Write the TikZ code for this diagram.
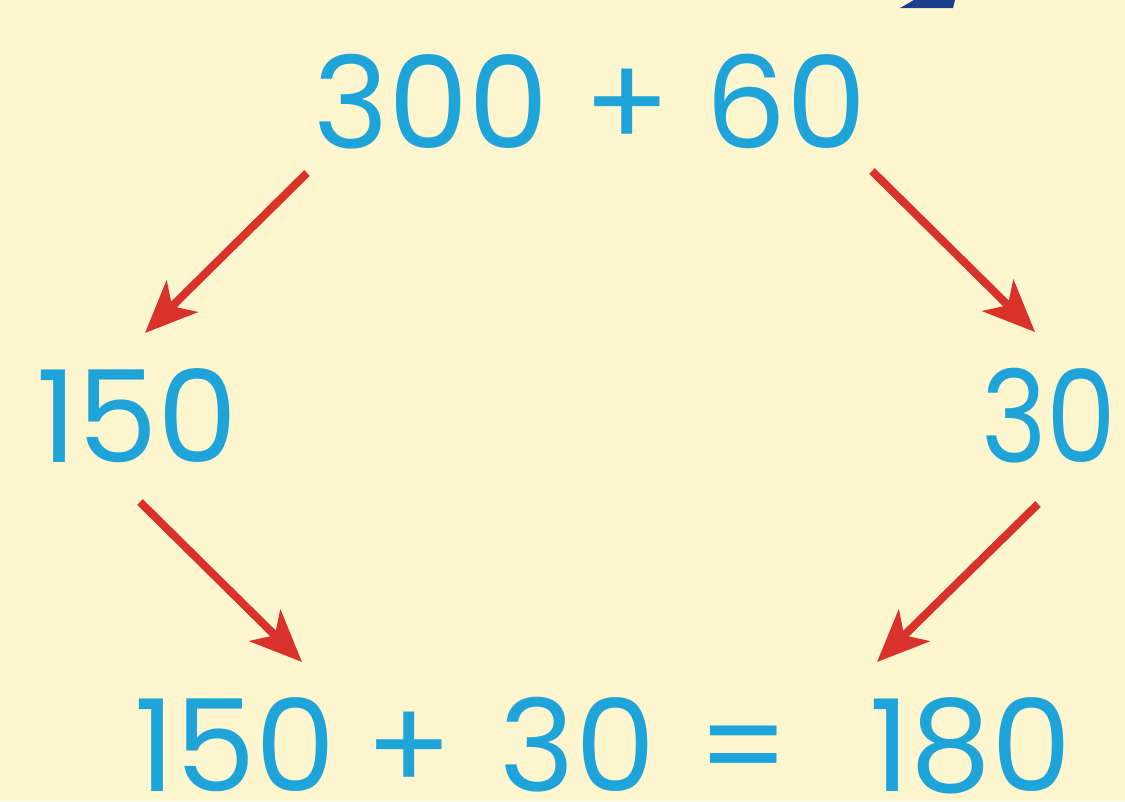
\documentclass[tikz,border=0pt]{standalone}
\usepackage{fontspec}
\setmainfont{Poppins}
\usetikzlibrary{arrows.meta}
\definecolor{sheetCream}{HTML}{FEF6CF}
\definecolor{numBlue}{HTML}{1FA4DA}
\definecolor{arrowRed}{HTML}{D8322A}
\definecolor{markNavy}{HTML}{1B3F8F}

\begin{document}
\begin{tikzpicture}[x=1pt, y=-1pt,
          num/.style={text=numBlue, inner sep=0pt, anchor=base, font=\fontsize{128}{128}\selectfont},
          split/.style={arrowRed, line width=8pt, -{Stealth[length=52pt, width=44pt, inset=14pt]}}]
        \fill[sheetCream] (0,0) rectangle (1125,801);
        \useasboundingbox (0,0) rectangle (1125,801);
        % cut-off mark at the top edge
        \fill[markNavy] (900,8) -- (953,8) -- (955,0) -- (914,0) -- cycle;
        \node[num] (sum) at (590,148) {300 + 60};
        \node[num] (half) at (137,462) {150};
        \node[num, xscale=0.87] (part) at (1049,462) {30};
        \node[num] (total) at (603,791) {150\kern-5pt{} + \kern13pt{}30\kern8pt{} = \kern45pt{}180};
        \coordinate (s1) at (307,173);
        \coordinate (h1) at (145,333);
        \coordinate (s2) at (872,171);
        \coordinate (p1) at (1035,332);
        \coordinate (h2) at (140,502);
        \coordinate (t1) at (302,662);
        \coordinate (p2) at (1038,504);
        \coordinate (t2) at (877,662);
        \draw[split] (s1) -- (h1);
        \draw[split] (s2) -- (p1);
        \draw[split] (h2) -- (t1);
        \draw[split] (p2) -- (t2);
      \end{tikzpicture}
\end{document}
